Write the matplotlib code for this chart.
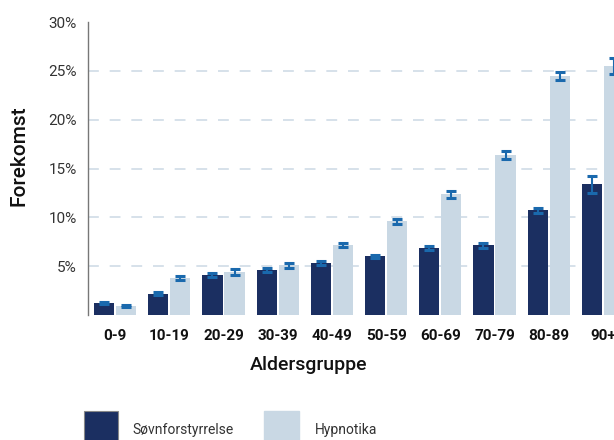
import numpy as np
import matplotlib
matplotlib.use('Agg')
import matplotlib.pyplot as plt
from matplotlib.patches import Rectangle

plt.rcParams['font.family'] = ['Roboto', 'DejaVu Sans']

# data
groups = ['0-9', '10-19', '20-29', '30-39', '40-49',
          '50-59', '60-69', '70-79', '80-89', '90+']
sovn = [1.2, 2.2, 4.1, 4.6, 5.3, 6.0, 6.85, 7.15, 10.7, 13.4]
sovn_err = [0.1, 0.17, 0.17, 0.17, 0.19, 0.15, 0.22, 0.24, 0.3, 0.87]
hypn = [0.9, 3.8, 4.4, 5.1, 7.15, 9.6, 12.35, 16.4, 24.5, 25.5]
hypn_err = [0.08, 0.17, 0.26, 0.27, 0.2, 0.27, 0.32, 0.42, 0.43, 0.82]
yticks = [0, 5, 10, 15, 20, 25, 30]

dark = '#1b2f61'
light = '#c9d8e4'
err_col = '#1a69ad'

fig = plt.figure(figsize=(6.14, 4.40), dpi=100)
ax = fig.add_axes([88/614, 125/440, 542/614, 293/440])

x = np.arange(len(groups))
w = 0.37
ekw = dict(ecolor=err_col, elinewidth=1.5, capsize=3.5, capthick=2.2)
ax.bar(x - 0.203, sovn, w, color=dark, yerr=sovn_err, error_kw=ekw, zorder=3)
ax.bar(x + 0.203, hypn, w, color=light, yerr=hypn_err, error_kw=ekw, zorder=3)

ax.set_xlim(-0.5, 9.5)
ax.set_ylim(0, 30)
ax.set_yticks(yticks)
ax.set_yticklabels([f'{v}%' if v > 0 else '' for v in yticks])
ax.set_xticks(x)
ax.set_xticklabels(groups, fontweight='bold', fontsize=11)
ax.tick_params(axis='both', length=0)
ax.tick_params(axis='x', pad=10, colors='#111111')
ax.tick_params(axis='y', pad=8, labelsize=11, labelcolor='#333333')

for v in yticks[1:-1]:
    ax.axhline(v, color='#d3dee8', linewidth=1.3, dashes=(6, 6), zorder=1)

for s in ['top', 'right', 'bottom']:
    ax.spines[s].set_visible(False)
ax.spines['left'].set_color('#777777')
ax.spines['left'].set_linewidth(1.0)

ax.set_ylabel('Forekomst', fontsize=15, color='#111111', fontweight='medium')
ax.yaxis.set_label_coords((29 - 88) / 542, (315 - 156) / 293)
ax.set_xlabel('Aldersgruppe', fontsize=14, color='#111111', fontweight='medium')
ax.xaxis.set_label_coords((309 - 88) / 542, -(356 - 315) / 293)

# legend at the bottom (partly cut off, as in the original)
fig.add_artist(Rectangle((84/614, -10/440), 34/614, 39/440,
                         transform=fig.transFigure, color=dark, ec='#888888', lw=0.8))
fig.text(132/614, 1 - 430/440, 'Søvnforstyrrelse', fontsize=10,
         color='#333333', va='center', ha='left')
fig.add_artist(Rectangle((264/614, -10/440), 35/614, 39/440,
                         transform=fig.transFigure, color=light))
fig.text(315/614, 1 - 430/440, 'Hypnotika', fontsize=10,
         color='#333333', va='center', ha='left')

plt.savefig('out.png', dpi=100)
